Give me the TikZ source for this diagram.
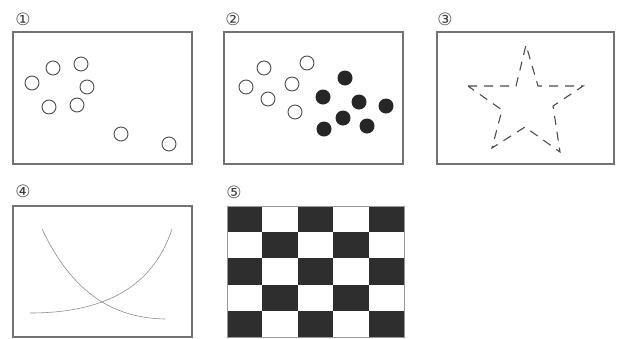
\documentclass[tikz,border=0pt]{standalone}
\usepackage{fontspec}
\newfontfamily\symfont{DejaVu Sans}
\usetikzlibrary{positioning}

\begin{document}
\begin{tikzpicture}[
    x=1pt, y=-1pt,
    every node/.style={font=\symfont\fontsize{17}{17}\selectfont, text=black!75, inner sep=0pt},
    panel/.style={draw=black!55, line width=1.4pt},
    dot/.style={draw=black!70, line width=0.9pt, fill=white},
    blob/.style={fill=black!85},
    curve/.style={draw=black!45, line width=0.6pt}
]
    \useasboundingbox (0,0) rectangle (618,338);

    % 1: open circles only
    \node (l1) at (23,19) {①};
    \draw[panel] (13,32) rectangle (192,164);
    \foreach \px/\py in {32/83, 53/68, 81/64, 87/87, 49/107, 77/105, 121/134, 169/144}
        \draw[dot] (\px,\py) circle (7);

    % 2: open and filled circles
    \node (l2) at (233,19) {②};
    \draw[panel] (224,32) rectangle (403,164);
    \foreach \px/\py in {246/87, 264/68, 307/63, 292/84, 268/99, 295/112}
        \draw[dot] (\px,\py) circle (7);
    \foreach \px/\py in {345/78, 323/97, 359/102, 386/106, 343/118, 367/126, 324/129}
        \fill[blob] (\px,\py) circle (7.5);

    % 3: dashed star
    \node (l3) at (445,19) {③};
    \draw[panel] (437,32) rectangle (614,164);
    \draw[black!70, line width=1.1pt, dash pattern=on 9pt off 7pt]
        (468,86) -- (516,86) -- (526,45) -- (538,86) -- (583,86) -- (553,106)
        -- (560,152) -- (525,127) -- (492,148) -- (502,110) -- cycle;

    % 4: crossing curves
    \node (l4) at (23,191) {④};
    \draw[panel] (13,206) rectangle (192,337);
    \draw[curve] (42,229) .. controls (72,292) and (112,318) .. (165,319);
    \draw[curve] (30,313) .. controls (100,313) and (152,290) .. (172,229);

    % 5: checkerboard
    \node (l5) at (234,192) {⑤};
    \foreach \i in {0,...,4}
        \foreach \j in {0,...,4} {
            \pgfmathtruncatemacro{\odd}{mod(\i+\j,2)}
            \ifnum\odd=0
                \fill[black!82] (227+35.4*\i,206+26.2*\j) rectangle ++(35.4,26.2);
            \fi
        }
    \draw[black!40, line width=0.5pt] (227,206) rectangle (404,337);
\end{tikzpicture}
\end{document}
